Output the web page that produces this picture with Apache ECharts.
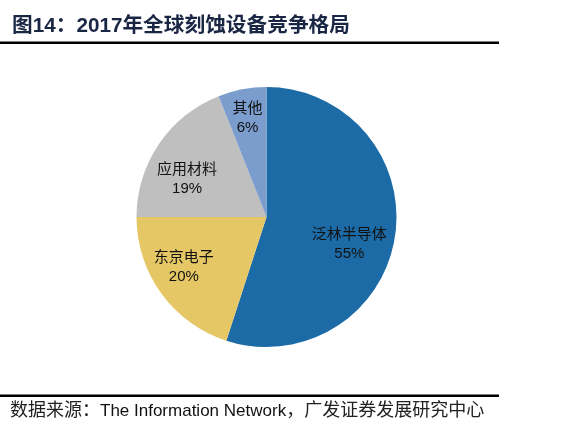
<!DOCTYPE html>
<html><head><meta charset="utf-8">
<script src="https://cdn.jsdelivr.net/npm/echarts@6/dist/echarts.min.js"></script>
<style>html,body{margin:0;padding:0;background:#fff}#c{width:562px;height:433px}</style>
</head><body><div id="c"></div>
<script>
const titleText = '图14：2017年全球刻蚀设备竞争格局';
const sourcePrefix = '数据来源：';
const sourceOrg = 'The Information Network';
const sourceSuffix = '，广发证券发展研究中心';
const categories = ['泛林半导体', '东京电子', '应用材料', '其他'];
const shares = [55, 20, 19, 6];
const colors = ['#1c6ba6', '#e5c766', '#bfbfbf', '#7b9dcd'];
// label nudges (style only)
const labelNudge = [[-12, 12], [-5, -6], [0, 16], [-1, -4]];

const chart = echarts.init(document.getElementById('c'));
const pieData = categories.map((n, i) => ({ name: n, value: shares[i], itemStyle: { color: colors[i] } }));
const labelData = categories.map((n, i) => ({ name: n, value: shares[i], label: { offset: labelNudge[i] } }));
const ff = 'Liberation Sans, "Noto Sans CJK SC", sans-serif';

chart.setOption({
  animation: false,
  title: {
    text: titleText, left: 7, top: 11,
    textStyle: { fontSize: 20.7, fontWeight: 'bold', color: '#1a2744', fontFamily: ff }
  },
  graphic: [
    { type: 'rect', shape: { x: 0, y: 41.5, width: 499, height: 2.5 }, style: { fill: '#000' } },
    { type: 'rect', shape: { x: 0, y: 394.5, width: 499, height: 2.5 }, style: { fill: '#000' } },
    { type: 'text', left: 10, top: 402, style: {
        text: '{cn|' + sourcePrefix + '}{en|' + sourceOrg + '}{cn|' + sourceSuffix + '}',
        fill: '#111', fontFamily: ff,
        rich: { cn: { fontSize: 18, fill: '#222', fontFamily: ff }, en: { fontSize: 17, fill: '#111', fontFamily: ff } }
    } }
  ],
  series: [
    {
      type: 'pie', center: [266.5, 217], radius: [0, 130], startAngle: 90, clockwise: true,
      data: pieData, label: { show: false }, labelLine: { show: false },
      itemStyle: { borderColor: '#fff', borderWidth: 0 }, silent: true
    },
    {
      type: 'pie', center: [266.5, 217], radius: [0, 186], startAngle: 90, clockwise: true,
      data: labelData, silent: true,
      itemStyle: { color: 'rgba(0,0,0,0)' },
      label: {
        show: true, position: 'inside',
        formatter: p => p.name + '\n' + p.value + '%',
        fontSize: 15, lineHeight: 19, color: '#111',
        fontFamily: ff
      },
      labelLine: { show: false }
    }
  ]
});
</script></body></html>
